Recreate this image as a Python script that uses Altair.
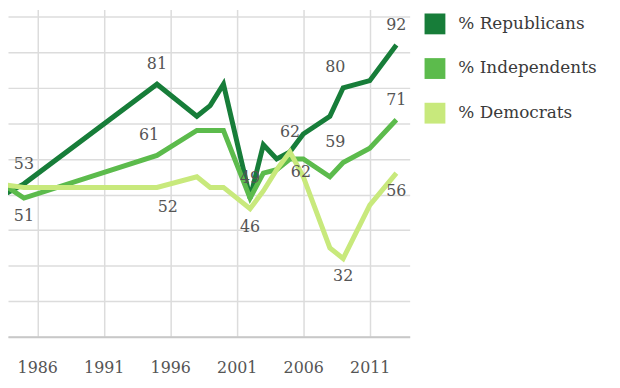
import altair as alt
import pandas as pd

# ---- data ----
years = [1983, 1985, 1995, 1998, 1999, 2000, 2002, 2003, 2004, 2005, 2006, 2008, 2009, 2011, 2013]
republicans = [49, 53, 81, 72, 75, 81, 49, 64, 60, 62, 67, 72, 80, 82, 92]
independents = [54, 49, 61, 68, 68, 68, 49, 56, 57, 60, 60, 55, 59, 63, 71]
democrats = [53, 52, 52, 55, 52, 52, 46, 51, 57, 62, 55, 35, 32, 47, 56]

series_names = ["% Republicans", "% Independents", "% Democrats"]
series_colors = ["#177d39", "#5cbb4c", "#c8e97c"]
x_tick_values = [1986, 1991, 1996, 2001, 2006, 2011]
y_grid_values = [10, 20, 30, 40, 50, 60, 70, 80, 90, 100]

# value labels: (series, year, text)
labels_above = [("% Republicans", 1985, "53"), ("% Republicans", 1995, "81"),
                ("% Republicans", 2002, "49"), ("% Republicans", 2005, "62"),
                ("% Republicans", 2013, "92"), ("% Independents", 2013, "71")]
labels_above_left = [("% Independents", 1995, "61"),
                     ("% Republicans", 2009, "80"), ("% Independents", 2009, "59")]
labels_below = [("% Independents", 1985, "51"), ("% Democrats", 2002, "46"),
                ("% Democrats", 2009, "32"), ("% Democrats", 2013, "56")]
labels_below_right = [("% Democrats", 1995, "52"), ("% Democrats", 2005, "62")]

rows = []
for name, vals in zip(series_names, [republicans, independents, democrats]):
    for yr, v in zip(years, vals):
        rows.append({"series": name, "year": yr, "value": v})
df = pd.DataFrame(rows)


def label_frame(items):
    lab = pd.DataFrame(items, columns=["series", "year", "text"])
    return lab.merge(df, on=["series", "year"], how="left")


FONT = "DejaVu Serif"

x_scale = alt.Scale(domain=[1983.8, 2014.0], nice=False, zero=False)
y_scale = alt.Scale(domain=[10, 102], nice=False, zero=False)
color_scale = alt.Scale(domain=series_names, range=series_colors)

x_axis = alt.Axis(values=x_tick_values, format="d", title=None,
                  grid=True, gridColor="#dcdcdc", gridWidth=1.5,
                  domain=True, domainColor="#c8c8c8", domainWidth=2,
                  ticks=False, labelFont=FONT, labelFontSize=16,
                  labelColor="#555555", labelPadding=23,
                  labelFlush=False, labelOverlap=False)
y_axis = alt.Axis(values=y_grid_values, title=None, grid=True,
                  gridColor="#dcdcdc", gridWidth=1.5, labels=False,
                  ticks=False, domain=False)


def X():
    return alt.X("year:Q", scale=x_scale, axis=x_axis)


def Y():
    return alt.Y("value:Q", scale=y_scale, axis=y_axis)


color_enc = alt.Color(
    "series:N", scale=color_scale, sort=series_names,
    legend=alt.Legend(
        title=None, orient="none", legendX=420, legendY=4,
        symbolType="square", symbolSize=441, symbolStrokeWidth=0,
        symbolOpacity=1,
        labelFont=FONT, labelFontSize=17, labelColor="#3a3a3a",
        labelOffset=13, rowPadding=24, padding=0,
    ),
)

# invisible square layer that carries the colour legend (filled squares)
legend_layer = alt.Chart(df).mark_square(opacity=0, filled=True, size=1).encode(
    x=X(), y=Y(), color=color_enc)

layers = [legend_layer]
for name, col in zip(series_names, series_colors):
    layers.append(
        alt.Chart(df).transform_filter(alt.datum.series == name)
        .mark_line(strokeWidth=5, clip=True, strokeJoin="miter", color=col)
        .encode(x=X(), y=Y())
    )


def text_layer(items, dx, dy):
    return alt.Chart(label_frame(items)).mark_text(
        font=FONT, fontSize=16, color="#555555", dx=dx, dy=dy,
        baseline="middle", align="center"
    ).encode(x=X(), y=Y(), text="text:N")


layers.append(text_layer(labels_above, 0, -20))
layers.append(text_layer(labels_above_left, -8, -21))
layers.append(text_layer(labels_below, 0, 18))
layers.append(text_layer(labels_below_right, 11, 20))

chart = alt.layer(*layers).properties(
    width=405, height=330,
    autosize=alt.AutoSizeParams(type="none"),
    padding={"left": 0, "top": 0, "right": 204, "bottom": 42},
    background="white",
).configure_view(stroke=None)

chart.save("out.html", embed_options={"renderer": "svg", "actions": False})
